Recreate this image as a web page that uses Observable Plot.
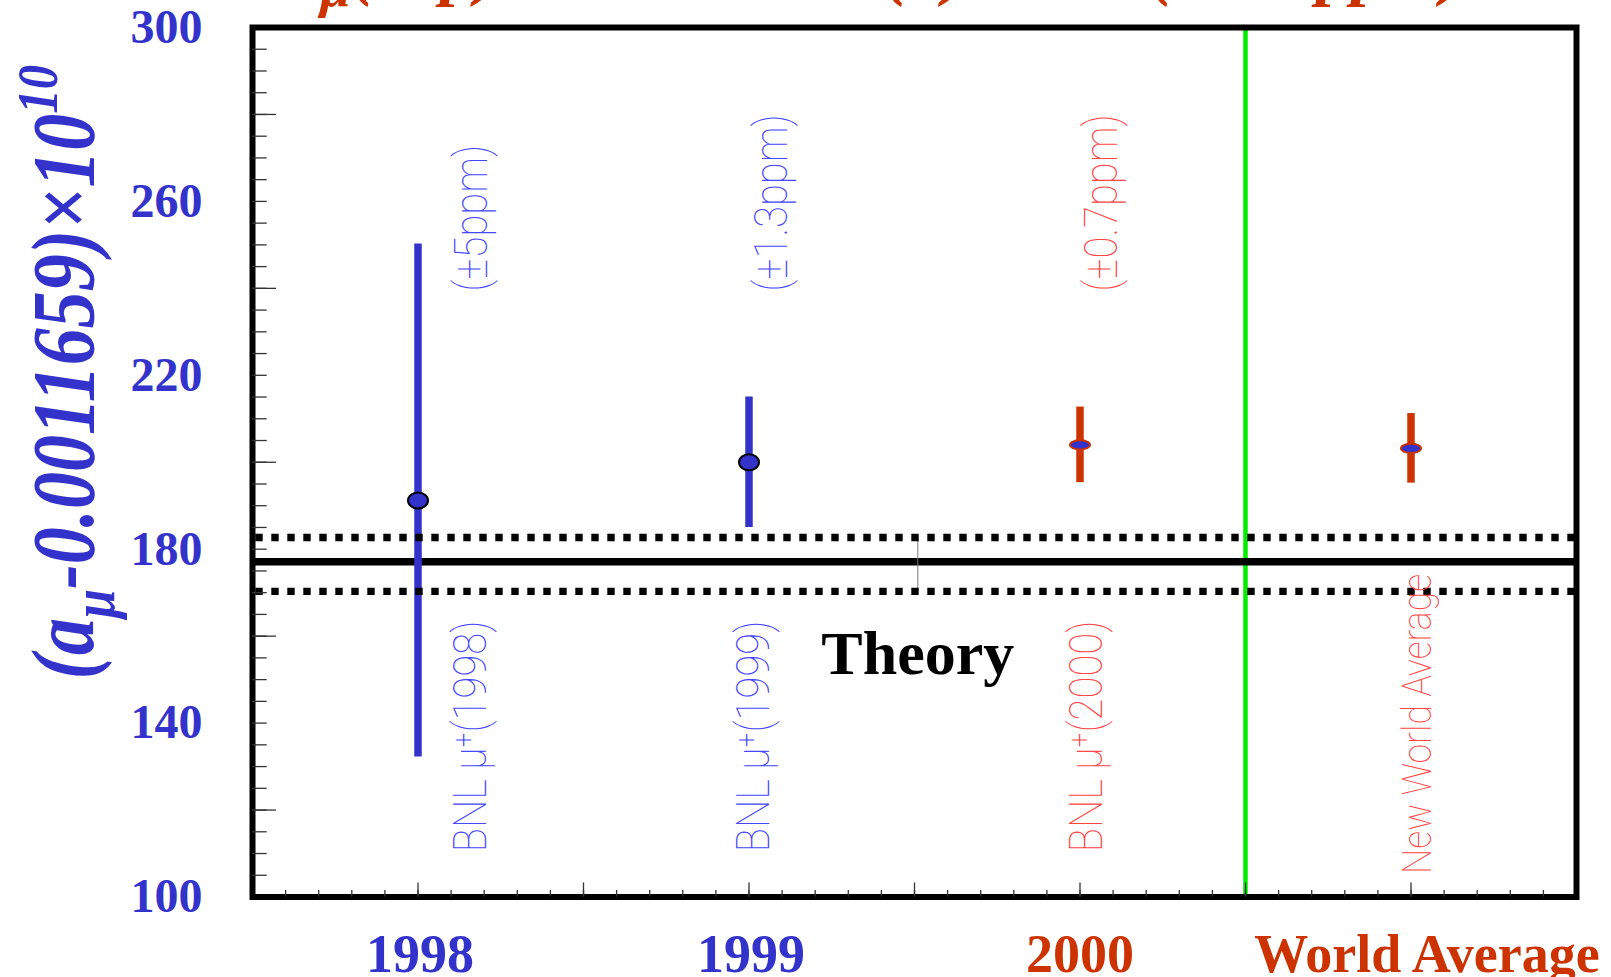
<!DOCTYPE html>
<html>
<head>
<meta charset="utf-8">
<script src="https://cdn.jsdelivr.net/npm/d3@7"></script>
<script src="https://cdn.jsdelivr.net/npm/@observablehq/plot@0.6"></script>
<style>
  html, body { margin: 0; padding: 0; background: white; overflow: hidden; }
  #wrap { position: relative; width: 1611px; height: 977px; }
  #title { position: absolute; left: 285px; top: -66px; z-index: 2; white-space: nowrap;
           font: italic bold 70px "Liberation Serif", "Times New Roman", serif; line-height: 70px; color: #cc3300; }
  #title sub { font-size: 0.8em; vertical-align: baseline; position: relative; top: 0.25em; line-height: 0; }
  #title sup { font-size: 0.6em; vertical-align: baseline; position: relative; top: -0.8em; line-height: 0; }
</style>
</head>
<body>
<div id="wrap">
  <div id="title">a<sub>μ</sub>(exp) = 11 659 203(8)×10<sup>-10</sup> (±0.7 ppm)</div>
  <div id="chart"></div>
</div>
<script>
// ---- data ----
const categories = ["1998", "1999", "2000", "World Average"];
const years      = [1998, 1999, 2000, 2001];
const values     = [191.2, 200.0, 204.0, 203.2];
const errors     = [59, 15, 8.7, 8.0];
const era        = ["early", "early", "recent", "recent"];

const theory     = [177.1];
const theoryLow  = [170.3];
const theoryHigh = [182.7];
const theoryX    = [1999.51];
const dividerX   = [2000.5];

const yTickLabels = [100, 140, 180, 220, 260, 300];
const yMidTicks   = [120, 160, 200, 240, 280];
const xMajorTicks = [1998, 1998.5, 1999, 1999.5, 2000, 2000.5, 2001];

const annText = ["(±5ppm)", "(±1.3ppm)", "(±0.7ppm)", "BNL μ⁺(1998)", "BNL μ⁺(1999)", "BNL μ⁺(2000)"];
const annX    = [1998.207, 1999.115, 2000.112, 1998.204, 1999.06, 2000.065];
const annY    = [239.3, 239.3, 239.3, 110.3, 110.3, 110.3];
const annEra  = ["early", "early", "recent", "early", "early", "recent"];
const nwaText = ["New World Average"];
const nwaX    = [2001.06];
const nwaY    = [105.3];

const theoryLabel = ["Theory"];
const theoryLabelY = [151.4];
const yLabel = ["(aμ-0.0011659)×1010"];

// ---- derived tables ----
const points = categories.map((c, i) => ({category: c, x: years[i], value: values[i], err: errors[i], era: era[i]}));
const anns = annText.map((t, i) => ({text: t, x: annX[i], y: annY[i], era: annEra[i]}));
const yMinorTicks = d3.range(21, 60).map(d => d * 5).filter(d => d > 100 && d < 300);
const xMinorTicks = d3.range(19976, 20015).map(d => d / 10);

function ellipseSymbol(aspect) {
  return {
    draw(ctx, size) {
      const ry = Math.sqrt(size / Math.PI), rx = ry * aspect, k = 0.5523;
      ctx.moveTo(rx, 0);
      ctx.bezierCurveTo(rx, k * ry, k * rx, ry, 0, ry);
      ctx.bezierCurveTo(-k * rx, ry, -rx, k * ry, -rx, 0);
      ctx.bezierCurveTo(-rx, -k * ry, -k * rx, -ry, 0, -ry);
      ctx.bezierCurveTo(k * rx, -ry, rx, -k * ry, rx, 0);
      ctx.closePath();
    }
  };
}

const BLUE = "#3333cc", RED = "#cc3300";
const serif = "Liberation Serif, Times New Roman, serif";
const thin = "Roboto, Inter, DejaVu Sans, sans-serif";

const svg = Plot.plot({
  width: 1611,
  height: 977,
  marginTop: 27,
  marginLeft: 252,
  marginRight: 35,
  marginBottom: 80.5,
  style: {background: "white"},
  x: {type: "linear", domain: [1997.5, 2001.5]},
  y: {domain: [100, 300]},
  marks: [
    Plot.ruleX(dividerX, {stroke: "#00ee00", strokeWidth: 4.5}),
    Plot.ruleY(theory, {stroke: "black", strokeWidth: 7.5}),
    Plot.ruleX(theoryX, {y1: theoryLow[0], y2: theoryHigh[0], stroke: "#777", strokeWidth: 1}),
    Plot.ruleX(points, {filter: d => d.era === "early", x: "x", y1: d => d.value - d.err, y2: d => d.value + d.err, stroke: BLUE, strokeWidth: 7.5}),
    Plot.ruleX(points, {filter: d => d.era === "recent", x: "x", y1: d => d.value - d.err, y2: d => d.value + d.err, stroke: RED, strokeWidth: 7.5}),
    Plot.ruleY([...theoryLow, ...theoryHigh], {stroke: "black", strokeWidth: 7.4, strokeDasharray: "7.4,8.6", strokeDashoffset: 12.7}),
    Plot.dot(points, {filter: d => d.era === "early", x: "x", y: "value", r: 8, symbol: ellipseSymbol(1.25), fill: BLUE, stroke: "black", strokeWidth: 2}),
    Plot.dot(points, {filter: d => d.era === "recent", x: "x", y: "value", r: 4.6, symbol: ellipseSymbol(2.2), fill: BLUE, stroke: RED, strokeWidth: 1.8}),
    // annotations (thin condensed labels)
    Plot.text(anns, {filter: d => d.era === "early", x: "x", y: "y", text: "text", rotate: -90, textAnchor: "start", lineAnchor: "bottom",
      fontSize: 46, fontWeight: 100, fontFamily: thin, fill: "#4646ff"}),
    Plot.text(anns, {filter: d => d.era === "recent", x: "x", y: "y", text: "text", rotate: -90, textAnchor: "start", lineAnchor: "bottom",
      fontSize: 46, fontWeight: 100, fontFamily: thin, fill: "#ff4646"}),
    Plot.text(nwaText, {x: nwaX, y: nwaY, text: d => d, rotate: -90, textAnchor: "start", lineAnchor: "bottom",
      fontSize: 41, fontWeight: 100, fontFamily: thin, fill: "#ff4646"}),
    Plot.text(theoryLabel, {x: theoryX, y: theoryLabelY, text: d => d, textAnchor: "middle", lineAnchor: "bottom",
      fontSize: 62, fontWeight: "bold", fontFamily: serif, fill: "black"}),
    // category labels below the frame
    Plot.text(points, {filter: d => d.era === "early", x: "x", text: "category", frameAnchor: "bottom", dx: 2, dy: 74.5, lineAnchor: "bottom",
      fontSize: 54, fontWeight: "bold", fontFamily: serif, fill: BLUE}),
    Plot.text(points, {filter: d => d.category === "2000", x: "x", text: "category", frameAnchor: "bottom", dy: 74.5, lineAnchor: "bottom",
      fontSize: 54, fontWeight: "bold", fontFamily: serif, fill: RED}),
    Plot.text(points, {filter: d => d.category === "World Average", x: "x", text: "category", frameAnchor: "bottom", dx: 16, dy: 74.5, lineAnchor: "bottom",
      fontSize: 54, fontWeight: "bold", fontFamily: serif, fill: RED}),
    // y axis title
    Plot.text(yLabel, {frameAnchor: "left", text: d => d, dx: -160, dy: -90, rotate: -90, textAnchor: "middle", lineAnchor: "bottom",
      fontSize: 88, fontWeight: "bold", fontStyle: "italic", fontFamily: serif, fill: BLUE}),
    Plot.frame({stroke: "black", strokeWidth: 6}),
    // axes: inward ticks
    Plot.axisY({ticks: yMinorTicks, tickSize: -14.7, tickFormat: () => "", label: null, stroke: "#333", strokeWidth: 1.3}),
    Plot.axisY({ticks: yMidTicks, tickSize: -24, tickFormat: () => "", label: null, stroke: "#333", strokeWidth: 1.3}),
    Plot.axisY({ticks: yTickLabels, tickSize: 0, tickPadding: 50, label: null, fontSize: 48, fontWeight: "bold", fontFamily: serif, fill: BLUE}),
    Plot.axisX({ticks: xMinorTicks, tickSize: -6.5, tickFormat: () => "", label: null, stroke: "#333", strokeWidth: 1.3}),
    Plot.axisX({ticks: xMajorTicks, tickSize: -14, tickFormat: () => "", label: null, stroke: "#333", strokeWidth: 1.3})
  ]
});

const root = d3.select(svg);
// condense the thin rotated annotation labels along their reading direction
root.selectAll('g[font-weight="100"] text').each(function () {
  const t = this.getAttribute("transform") || "";
  this.setAttribute("transform", t + " scale(0.87,1)");
});
// y axis title: subscript and superscript, condensed
root.selectAll('g[font-size="88"] text').each(function () {
  const t = this.getAttribute("transform") || "";
  this.setAttribute("transform", t + " scale(0.84,1)");
  const el = d3.select(this);
  el.text(null);
  el.append("tspan").text("(a");
  el.append("tspan").attr("dy", 21).attr("font-size", 62).text("μ");
  el.append("tspan").attr("dy", -21).text("-0.0011659)×10");
  el.append("tspan").attr("dy", -36).attr("font-size", 58).text("10");
});

document.getElementById("chart").appendChild(svg);
</script>
</body>
</html>
